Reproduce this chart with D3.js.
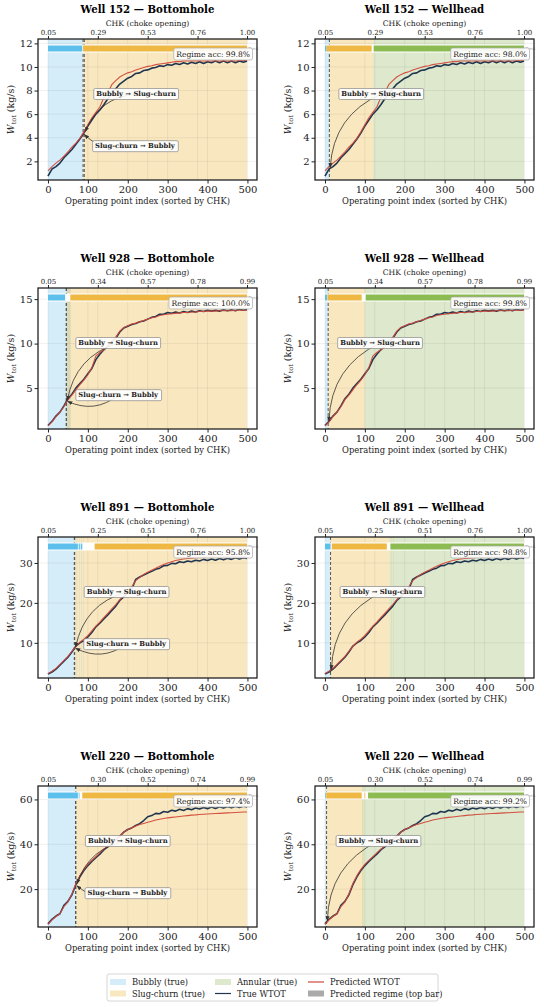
<!DOCTYPE html>
<html>
<head>
<meta charset="utf-8">
<script src="https://cdn.jsdelivr.net/npm/d3@7"></script>
<style>
body { margin: 0; background: #fff; }
svg { display: block; }
text { font-family: "DejaVu Serif", serif; fill: #222; }
</style>
</head>
<body>
<div id="chart"></div>
<script>
// ---------- data ----------
var wells = ["152", "928", "891", "220"];
var locations = ["Bottomhole", "Wellhead"];

// operating point index, sampled every 10 points
var idx = [0,10,20,30,40,50,60,70,80,90,100,110,120,130,140,150,160,170,180,190,200,210,220,230,240,250,260,270,280,290,300,310,320,330,340,350,360,370,380,390,400,410,420,430,440,450,460,470,480,490,499];

var true152 = [0.75,1.35,1.55,1.85,2.3,2.65,3.0,3.45,3.9,4.4,5.0,5.5,6.0,6.35,6.8,7.3,7.75,8.15,8.55,8.8,9.05,9.2,9.45,9.5,9.7,9.75,9.9,9.95,10.1,10.05,10.2,10.15,10.3,10.2,10.35,10.25,10.4,10.3,10.45,10.3,10.45,10.35,10.5,10.35,10.5,10.35,10.5,10.35,10.5,10.4,10.5];
var pred152 = [1.2,1.55,1.85,2.1,2.45,2.8,3.2,3.55,3.95,4.5,5.1,5.7,6.15,6.6,7.4,7.8,8.5,8.85,9.15,9.35,9.5,9.6,9.75,9.85,9.95,10.05,10.1,10.2,10.25,10.3,10.35,10.4,10.45,10.45,10.5,10.5,10.5,10.5,10.5,10.5,10.5,10.5,10.5,10.5,10.5,10.5,10.5,10.5,10.55,10.55,10.55];

var true928 = [0.8,1.25,1.85,2.3,3.0,3.8,4.3,5.0,5.5,6.0,6.6,7.2,8.2,8.8,9.3,9.7,10.2,10.6,11.3,11.75,11.95,12.15,12.25,12.45,12.55,12.75,12.95,13.05,13.3,13.3,13.5,13.4,13.55,13.45,13.6,13.5,13.65,13.55,13.7,13.6,13.75,13.65,13.75,13.65,13.8,13.7,13.8,13.7,13.85,13.75,13.85];
var pred928 = [0.75,1.2,1.8,2.3,2.9,3.7,4.2,4.8,5.4,5.9,6.5,7.3,8.6,9.0,9.3,9.7,10.3,10.7,11.4,11.8,12.0,12.2,12.3,12.45,12.6,12.75,12.9,13.0,13.15,13.25,13.3,13.35,13.4,13.45,13.5,13.5,13.55,13.55,13.6,13.6,13.65,13.65,13.65,13.7,13.7,13.7,13.7,13.75,13.75,13.75,13.75];

var true891 = [2.2,2.7,3.4,4.4,5.4,6.4,7.7,9.2,10.0,10.6,11.5,12.6,14.0,14.9,16.0,17.0,18.1,19.2,20.6,21.5,22.6,23.4,25.9,26.5,27.0,27.5,27.9,28.4,28.7,29.3,29.4,29.9,29.8,30.3,30.1,30.5,30.3,30.7,30.5,30.9,30.6,31.0,30.7,31.1,30.8,31.2,30.9,31.3,31.0,31.3,31.1];
var pred891 = [2.3,2.9,3.6,4.6,5.6,6.6,7.9,9.1,10.2,10.9,11.8,13.0,14.2,15.2,16.3,17.4,18.5,19.6,20.8,21.8,22.9,24.0,25.6,26.4,27.1,27.7,28.2,28.7,29.2,29.6,30.0,30.3,30.6,30.8,31.0,31.1,31.2,31.3,31.35,31.4,31.4,31.45,31.5,31.5,31.5,31.55,31.55,31.6,31.6,31.6,31.6];

var true220 = [4.5,6.5,8.0,9.0,12.8,14.5,17.5,22.0,25.5,28.3,30.5,32.3,34.0,35.6,37.5,38.8,40.6,42.0,43.6,45.4,46.6,47.3,48.4,49.2,50.6,52.3,52.8,53.8,53.6,54.6,54.3,55.2,54.8,55.6,55.1,55.9,55.4,56.2,55.7,56.4,55.9,56.6,56.0,56.7,56.2,56.9,56.3,57.0,56.4,57.1,56.6];
var pred220 = [4.3,6.3,7.8,9.0,12.2,14.3,17.8,22.5,26.0,28.8,31.0,32.8,34.5,36.2,37.8,39.3,40.8,42.2,43.7,45.3,46.5,47.4,48.2,48.8,49.3,49.8,50.3,50.8,51.2,51.5,51.8,52.0,52.2,52.4,52.6,52.8,53.0,53.1,53.3,53.4,53.5,53.6,53.7,53.8,53.9,54.0,54.1,54.2,54.3,54.4,54.4];

var trueWtot = [true152, true928, true891, true220];
var predWtot = [pred152, pred928, pred891, pred220];

var yLims = [[0.42, 12.37], [0.4, 16.25], [1.2, 36.5], [3.1, 66.0]];
var yTicks = [[2, 4, 6, 8, 10, 12], [5, 10, 15], [10, 20, 30], [20, 40, 60]];
var xTicks = [0, 100, 200, 300, 400, 500];

var chkTickIdx = [0, 125, 250, 375, 499];
var chkLabels = [
  ["0.05", "0.29", "0.53", "0.76", "1.00"],
  ["0.05", "0.34", "0.57", "0.78", "0.99"],
  ["0.05", "0.25", "0.51", "0.76", "1.00"],
  ["0.05", "0.30", "0.52", "0.74", "0.99"]
];

var regimeAcc = [[99.8, 98.0], [100.0, 99.8], [95.8, 98.8], [97.4, 99.2]];

// true regime spans [from, to, regime]
var spans152BH = [[0, 89, "Bubbly"], [89, 499, "Slug-churn"]];
var spans152WH = [[0, 11, "Bubbly"], [11, 121, "Slug-churn"], [121, 499, "Annular"]];
var spans928BH = [[0, 57, "Bubbly"], [46, 499, "Slug-churn"]];
var spans928WH = [[0, 8, "Bubbly"], [8, 100, "Slug-churn"], [100, 499, "Annular"]];
var spans891BH = [[0, 67, "Bubbly"], [67, 499, "Slug-churn"], [72, 73, "Bubbly"], [78, 79, "Bubbly"], [84, 85, "Bubbly"], [88, 89, "Bubbly"]];
var spans891WH = [[0, 13, "Bubbly"], [13, 161, "Slug-churn"], [161, 499, "Annular"], [166, 167, "Slug-churn"], [171, 172, "Slug-churn"]];
var spans220BH = [[0, 70, "Bubbly"], [70, 499, "Slug-churn"]];
var spans220WH = [[0, 4, "Bubbly"], [4, 96, "Slug-churn"], [94, 499, "Annular"]];

// predicted regime (top bar) segments
var bar152BH = [[0, 86, "Bubbly"], [88, 499, "Slug-churn"]];
var bar152WH = [[0, 4, "Bubbly"], [4, 117, "Slug-churn"], [122, 499, "Annular"]];
var bar928BH = [[0, 43, "Bubbly"], [56, 499, "Slug-churn"]];
var bar928WH = [[0, 5, "Bubbly"], [6, 92, "Slug-churn"], [102, 499, "Annular"]];
var bar891BH = [[0, 75, "Bubbly"], [77, 80, "Bubbly"], [82, 86, "Bubbly"], [117, 499, "Slug-churn"]];
var bar891WH = [[0, 14, "Bubbly"], [17, 155, "Slug-churn"], [164, 499, "Annular"]];
var bar220BH = [[0, 75, "Bubbly"], [77, 79, "Bubbly"], [86, 499, "Slug-churn"]];
var bar220WH = [[0, 2, "Bubbly"], [3, 92, "Slug-churn"], [99, 101, "Slug-churn"], [108, 499, "Annular"]];

// regime transitions [label, index]
var trans152BH = [["Bubbly \u2192 Slug-churn", 91], ["Slug-churn \u2192 Bubbly", 88]];
var trans152WH = [["Bubbly \u2192 Slug-churn", 11]];
var trans928BH = [["Bubbly \u2192 Slug-churn", 46], ["Slug-churn \u2192 Bubbly", 46]];
var trans928WH = [["Bubbly \u2192 Slug-churn", 8]];
var trans891BH = [["Bubbly \u2192 Slug-churn", 67], ["Slug-churn \u2192 Bubbly", 66]];
var trans891WH = [["Bubbly \u2192 Slug-churn", 14]];
var trans220BH = [["Bubbly \u2192 Slug-churn", 70], ["Slug-churn \u2192 Bubbly", 69]];
var trans220WH = [["Bubbly \u2192 Slug-churn", 4]];

var trueSpans = [[spans152BH, spans152WH], [spans928BH, spans928WH], [spans891BH, spans891WH], [spans220BH, spans220WH]];
var predBars = [[bar152BH, bar152WH], [bar928BH, bar928WH], [bar891BH, bar891WH], [bar220BH, bar220WH]];
var transitions = [[trans152BH, trans152WH], [trans928BH, trans928WH], [trans891BH, trans891WH], [trans220BH, trans220WH]];

var legendItems = ["Bubbly (true)", "Slug-churn (true)", "Annular (true)", "True WTOT", "Predicted WTOT", "Predicted regime (top bar)"];

// ---------- styles ----------
var bgColor = {"Bubbly": "#56B4E9", "Slug-churn": "#E69F00", "Annular": "#77a333"};
var barColor = {"Bubbly": "#5dbfeb", "Slug-churn": "#eeb843", "Annular": "#8cbb52"};
var trueColor = "#1f3550", predColor = "#d1493a";

var W = 544, H = 1007;
var colLeft = [38, 315], plotW = 219, plotH = 141, rowTop = 39, rowStep = 249;

var svg = d3.select("#chart").append("svg")
  .attr("width", W)
  .attr("height", H);

var defs = svg.append("defs");
defs.append("marker")
  .attr("id", "arrowhead")
  .attr("viewBox", "0 0 10 10")
  .attr("refX", 9).attr("refY", 5)
  .attr("markerUnits", "userSpaceOnUse")
  .attr("markerWidth", 5).attr("markerHeight", 5)
  .attr("orient", "auto")
  .append("path")
  .attr("d", "M0,1 L10,5 L0,9 z")
  .attr("fill", "#333");

wells.forEach(function(well, r) {
  locations.forEach(function(loc, c) {
    var x0 = colLeft[c], top = rowTop + r * rowStep;
    var x = d3.scaleLinear().domain([-25, 524]).range([x0, x0 + plotW]);
    var y = d3.scaleLinear().domain(yLims[r]).range([top + plotH, top]);
    var trueAt = d3.scaleLinear().domain(idx).range(trueWtot[r]);

    var clipId = "clip" + r + c;
    defs.append("clipPath").attr("id", clipId)
      .append("rect").attr("x", x0).attr("y", top).attr("width", plotW).attr("height", plotH);

    var g = svg.append("g");
    var plot = g.append("g").attr("clip-path", "url(#" + clipId + ")");

    // true regime shading
    plot.selectAll("rect.span")
      .data(trueSpans[r][c])
      .enter().append("rect")
      .attr("class", "span")
      .attr("x", function(d) { return x(d[0]); })
      .attr("width", function(d) { return x(d[1]) - x(d[0]); })
      .attr("y", top)
      .attr("height", plotH)
      .attr("fill", function(d) { return bgColor[d[2]]; })
      .attr("fill-opacity", 0.25);

    // grid
    var gridX = xTicks.concat(chkTickIdx.slice(1, 4));
    plot.selectAll("line.gx")
      .data(gridX)
      .enter().append("line")
      .attr("x1", function(d) { return x(d); }).attr("x2", function(d) { return x(d); })
      .attr("y1", top).attr("y2", top + plotH)
      .attr("stroke", "#000").attr("stroke-opacity", 0.08).attr("stroke-width", 0.8);
    plot.selectAll("line.gy")
      .data(yTicks[r])
      .enter().append("line")
      .attr("x1", x0).attr("x2", x0 + plotW)
      .attr("y1", function(d) { return y(d); }).attr("y2", function(d) { return y(d); })
      .attr("stroke", "#000").attr("stroke-opacity", 0.08).attr("stroke-width", 0.8);

    // transition dashed lines
    plot.selectAll("line.tr")
      .data(transitions[r][c])
      .enter().append("line")
      .attr("x1", function(d) { return x(d[1]); }).attr("x2", function(d) { return x(d[1]); })
      .attr("y1", top).attr("y2", top + plotH)
      .attr("stroke", "#555").attr("stroke-width", 1)
      .attr("stroke-dasharray", "3,2");

    // WTOT lines
    var pts = function(vals) { return idx.map(function(d, i) { return [d, vals[i]]; }); };
    var line = d3.line().x(function(d) { return x(d[0]); }).y(function(d) { return y(d[1]); });
    plot.append("path")
      .attr("d", line(pts(trueWtot[r])))
      .attr("fill", "none").attr("stroke", trueColor).attr("stroke-width", 1.6)
      .attr("stroke-linejoin", "bevel");
    plot.append("path")
      .attr("d", line(pts(predWtot[r])))
      .attr("fill", "none").attr("stroke", predColor).attr("stroke-width", 1.1)
      .attr("stroke-opacity", 0.95);

    // predicted regime bar
    var barY = top + 9.5, barH = 6;
    plot.append("rect")
      .attr("x", x(0) - 1).attr("width", x(499) - x(0) + 2)
      .attr("y", barY - barH / 2 - 1).attr("height", barH + 2)
      .attr("fill", "#fff");
    plot.selectAll("rect.bar")
      .data(predBars[r][c])
      .enter().append("rect")
      .attr("class", "bar")
      .attr("x", function(d) { return x(d[0]); })
      .attr("width", function(d) { return Math.max(0.6, x(d[1]) - x(d[0])); })
      .attr("y", barY - barH / 2)
      .attr("height", barH)
      .attr("fill", function(d) { return barColor[d[2]]; });
    g.append("text")
      .attr("x", x(499) + 1.5).attr("y", barY + 1.5)
      .attr("font-size", 4).style("fill", "#aaa")
      .text("Pred.");

    // annotations
    var fracs = [0.61, 0.24], rads = [0.3, -0.3];
    transitions[r][c].forEach(function(t, k) {
      var sx = x(t[1] + 130), sy = top + plotH * (1 - fracs[k]);
      var ex = x(t[1]), ey = y(trueAt(t[1]));
      var dx = ex - sx, dy = ey - sy;
      var len = Math.sqrt(dx * dx + dy * dy);
      ex -= dx / len * 1.5; ey -= dy / len * 1.5;
      var mx = (sx + ex) / 2, my = (sy + ey) / 2;
      var cx = mx - rads[k] * dy, cy = my + rads[k] * dx;
      g.append("path")
        .attr("d", "M" + sx + "," + sy + " Q" + cx + "," + cy + " " + ex + "," + ey)
        .attr("fill", "none").attr("stroke", "#333").attr("stroke-width", 0.8)
        .attr("marker-end", "url(#arrowhead)");
      var lbl = g.append("g");
      var tx = lbl.append("text")
        .attr("x", sx).attr("y", sy)
        .attr("text-anchor", "middle").attr("dominant-baseline", "central")
        .attr("font-size", 6.8).attr("font-weight", "bold")
        .text(t[0]);
      var bb = tx.node().getBBox();
      lbl.insert("rect", "text")
        .attr("x", bb.x - 2.5).attr("y", bb.y - 1.5)
        .attr("width", bb.width + 5).attr("height", bb.height + 3)
        .attr("rx", 1.5)
        .attr("fill", "#fff").attr("fill-opacity", 0.9)
        .attr("stroke", "#888").attr("stroke-width", 0.7);
    });

    // regime accuracy box
    var accG = g.append("g");
    var accT = accG.append("text")
      .attr("x", x0 + plotW - 7).attr("y", top + 15)
      .attr("text-anchor", "end").attr("dominant-baseline", "central")
      .attr("font-size", 7.6)
      .text("Regime acc: " + regimeAcc[r][c].toFixed(1) + "%");
    var ab = accT.node().getBBox();
    accG.insert("rect", "text")
      .attr("x", ab.x - 2.5).attr("y", ab.y - 1.5)
      .attr("width", ab.width + 5).attr("height", ab.height + 3)
      .attr("rx", 2)
      .attr("fill", "#fff").attr("fill-opacity", 0.9)
      .attr("stroke", "#aaa").attr("stroke-width", 0.7);

    // frame
    g.append("rect")
      .attr("x", x0).attr("y", top).attr("width", plotW).attr("height", plotH)
      .attr("fill", "none").attr("stroke", "#222").attr("stroke-width", 1.3);

    // axes
    var ax = g.append("g")
      .attr("transform", "translate(0," + (top + plotH) + ")")
      .call(d3.axisBottom(x).tickValues(xTicks).tickSize(3.5).tickPadding(2));
    ax.selectAll("text").attr("font-size", 10).attr("font-family", "DejaVu Serif");
    var ay = g.append("g")
      .attr("transform", "translate(" + x0 + ",0)")
      .call(d3.axisLeft(y).tickValues(yTicks[r]).tickSize(3.5).tickPadding(2));
    ay.selectAll("text").attr("font-size", 10).attr("font-family", "DejaVu Serif");
    var at = g.append("g")
      .attr("transform", "translate(0," + top + ")")
      .call(d3.axisTop(x).tickValues(chkTickIdx).tickSize(3).tickPadding(1.5)
        .tickFormat(function(d, i) { return chkLabels[r][i]; }));
    at.selectAll("text").attr("font-size", 7).attr("font-family", "DejaVu Serif");
    [ax, ay, at].forEach(function(a) {
      a.select(".domain").remove();
      a.selectAll("line").attr("stroke", "#222");
      a.selectAll("text").style("fill", "#222");
    });

    // labels
    g.append("text")
      .attr("x", x0 + plotW / 2).attr("y", top - 26)
      .attr("text-anchor", "middle")
      .attr("font-size", 10.2).attr("font-weight", "bold")
      .style("fill", "#000")
      .text("Well " + well + " \u2014 " + loc);
    g.append("text")
      .attr("x", x0 + plotW / 2).attr("y", top - 13)
      .attr("text-anchor", "middle")
      .attr("font-size", 7.7)
      .text("CHK (choke opening)");
    g.append("text")
      .attr("x", x0 + plotW / 2).attr("y", top + plotH + 24)
      .attr("text-anchor", "middle")
      .attr("font-size", 8.4)
      .text("Operating point index (sorted by CHK)");
    var yl = g.append("text")
      .attr("transform", "translate(" + (x0 - 24) + "," + (top + plotH / 2) + ") rotate(-90)")
      .attr("text-anchor", "middle")
      .attr("font-size", 9.5);
    yl.append("tspan").attr("font-style", "italic").text("W");
    yl.append("tspan").attr("font-size", 6.5).attr("dy", 2).text("tot");
    yl.append("tspan").attr("dy", -2).text(" (kg/s)");
  });
});

// ---------- legend ----------
var lg = svg.append("g");
lg.append("rect")
  .attr("x", 107).attr("y", 974).attr("width", 331).attr("height", 27)
  .attr("rx", 2)
  .attr("fill", "#fff").attr("stroke", "#ccc").attr("stroke-width", 0.8);
var legCols = [110, 215, 308], legRows = [982, 993.5];
var legendKeys = [
  {type: "patch", fill: bgColor["Bubbly"], op: 0.25},
  {type: "patch", fill: bgColor["Slug-churn"], op: 0.25},
  {type: "patch", fill: bgColor["Annular"], op: 0.25},
  {type: "line", stroke: trueColor},
  {type: "line", stroke: predColor},
  {type: "patch", fill: "#aaa", op: 1}
];
// legend is filled column-wise: 3 columns x 2 rows
var legPos = [[0, 0], [0, 1], [1, 0], [1, 1], [2, 0], [2, 1]];
legendItems.forEach(function(name, k) {
  var pos = legPos[k];
  var lx = legCols[pos[0]], ly = legRows[pos[1]];
  var key = legendKeys[k];
  if (key.type === "patch") {
    lg.append("rect")
      .attr("x", lx).attr("y", ly - 3).attr("width", 16).attr("height", 6)
      .attr("fill", key.fill).attr("fill-opacity", key.op);
  } else {
    lg.append("line")
      .attr("x1", lx).attr("x2", lx + 16).attr("y1", ly).attr("y2", ly)
      .attr("stroke", key.stroke).attr("stroke-width", 1.2);
  }
  lg.append("text")
    .attr("x", lx + 22).attr("y", ly)
    .attr("dominant-baseline", "central")
    .attr("font-size", 8.3)
    .text(name);
});
</script>
</body>
</html>
